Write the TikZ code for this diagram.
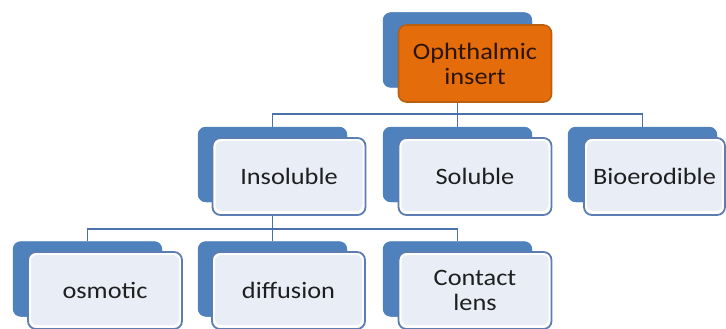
\documentclass[tikz,border=0pt]{standalone}
\usepackage{fontspec}
\newfontfamily\lbl[FakeStretch=1.12]{Carlito}
\definecolor{backblue}{HTML}{4F81BD}
\definecolor{frontedge}{HTML}{5B7DB1}
\definecolor{frontfill}{HTML}{E9EDF6}
\definecolor{orangefill}{HTML}{E46C0A}
\definecolor{orangeedge}{HTML}{B8600F}
\definecolor{linkblue}{HTML}{4A72A8}
\definecolor{txt}{HTML}{1F1F1F}
\definecolor{otxt}{HTML}{2A1400}
\tikzset{
  backbox/.style={fill=backblue, rounded corners=8pt, minimum width=149pt, minimum height=75pt, inner sep=0pt},
  labelfont/.style={font=\lbl\fontsize{23.5}{25}\selectfont, align=center},
  frontbox/.style={labelfont, draw=frontedge, line width=1.8pt, fill=white, rounded corners=8pt,
    minimum width=153pt, minimum height=77pt, inner sep=0pt, text=txt,
    path picture={\fill[frontfill, rounded corners=6pt]
      ([shift={(3pt,4pt)}]path picture bounding box.south west) rectangle
      ([shift={(-3pt,-3pt)}]path picture bounding box.north east);}},
  topbox/.style={labelfont, draw=orangeedge, line width=1.6pt, fill=orangefill, rounded corners=8pt,
    minimum width=153pt, minimum height=77pt, inner sep=0pt, text=otxt},
  link/.style={draw=linkblue, line width=1.8pt}
}
\begin{document}
\begin{tikzpicture}[x=1pt,y=1pt]
\useasboundingbox (0,0) rectangle (726,-329);
% back boxes
\node[backbox] (bTop) at (457.5,-50) {};
\node[backbox] (bIns) at (272.5,-164.5) {};
\node[backbox] (bSol) at (457.5,-164.5) {};
\node[backbox] (bBio) at (642.5,-164.5) {};
\node[backbox] (bOsm) at (87.5,-279) {};
\node[backbox] (bDif) at (272.5,-279) {};
\node[backbox] (bCon) at (457.5,-279) {};
% junctions
\coordinate (j1) at (457.5,-114);
\coordinate (j2) at (272.5,-229);
% connectors
\draw[link] (bTop.center) -- (j1);
\draw[link] (j1) -| (bIns.north);
\draw[link] (j1) -| (bBio.north);
\draw[link] (j1) -- (bSol.north);
\draw[link] (bIns.center) -- (j2);
\draw[link] (j2) -| (bOsm.north);
\draw[link] (j2) -| (bCon.north);
\draw[link] (j2) -- (bDif.north);
% redraw back boxes over connectors
\foreach \n in {bTop,bIns,bSol,bBio,bOsm,bDif,bCon}
  \fill[backblue, rounded corners=8pt] (\n.south west) rectangle (\n.north east);
% front boxes
\node[topbox] (fTop) at (475,-63.5) {Ophthalmic\\insert};
\node[frontbox] (fIns) at (289,-176.5) {Insoluble};
\node[frontbox] (fSol) at (475,-176.5) {Soluble};
\node[frontbox, minimum width=141pt] (fBio) at (654.5,-176.5) {Bioerodible};
\node[frontbox, minimum width=154pt] (fOsm) at (105,-290.5) {osmotic};
\node[frontbox] (fDif) at (288.5,-290.5) {diffusion};
\node[frontbox] (fCon) at (475,-290.5) {Contact\\lens};
\end{tikzpicture}
\end{document}
